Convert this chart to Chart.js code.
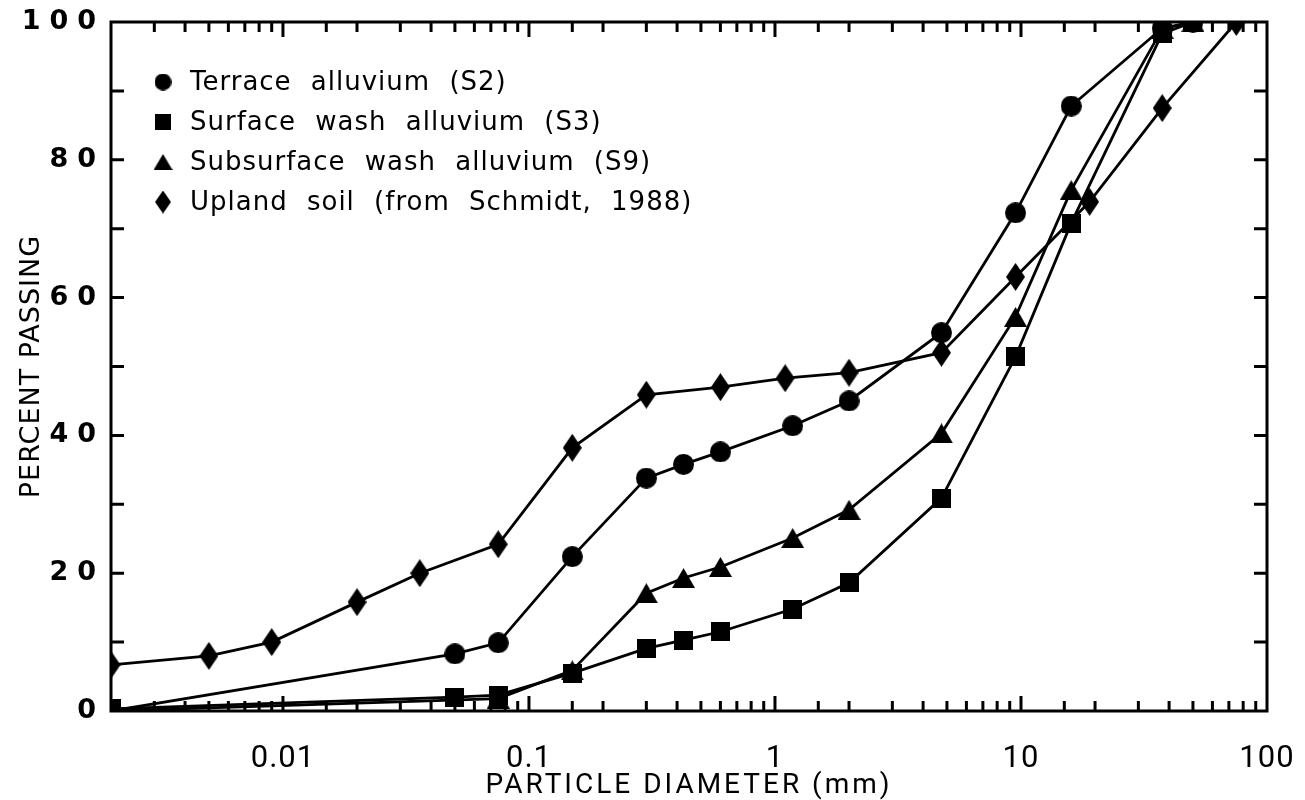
<!DOCTYPE html>
<html>
<head>
<meta charset="utf-8">
<script src="https://cdn.jsdelivr.net/npm/chart.js@4.4.1/dist/chart.umd.min.js"></script>
<style>
  html, body { margin: 0; padding: 0; background: #fff; }
  #wrap { width: 1305px; height: 800px; }
</style>
</head>
<body>
<div id="wrap"><canvas id="gradation" width="1305" height="800"></canvas></div>
<script>
// sieve sizes (mm) and percent passing
const terraceDiam = [0.002, 0.05, 0.075, 0.15, 0.3, 0.425, 0.6, 1.18, 2.0, 4.75, 9.5, 16, 37.5, 50];
const terracePass = [0, 8.3, 9.9, 22.4, 33.8, 35.8, 37.6, 41.4, 45.0, 54.9, 72.3, 87.8, 99.1, 100];

const surfaceDiam = [0.002, 0.05, 0.075, 0.15, 0.3, 0.425, 0.6, 1.18, 2.0, 4.75, 9.5, 16, 37.5, 50];
const surfacePass = [0.3, 2.0, 2.3, 5.5, 9.1, 10.3, 11.5, 14.8, 18.6, 30.9, 51.4, 70.8, 98.3, 100];

const subsurfaceDiam = [0.002, 0.075, 0.15, 0.3, 0.425, 0.6, 1.18, 2.0, 4.75, 9.5, 16, 37.5, 50];
const subsurfacePass = [0, 1.8, 5.9, 17.1, 19.3, 20.9, 25.1, 29.2, 40.3, 57.2, 75.6, 99.0, 100];

const uplandDiam = [0.002, 0.005, 0.009, 0.02, 0.036, 0.075, 0.15, 0.3, 0.6, 1.1, 2.0, 4.75, 9.5, 19, 37.5, 75];
const uplandPass = [6.7, 8.0, 10.0, 15.8, 20.0, 24.2, 38.2, 45.9, 47.0, 48.3, 49.1, 52.0, 63.0, 73.9, 87.5, 100];

const seriesLabels = [
    'Terrace alluvium (S2)',
    'Surface wash alluvium (S3)',
    'Subsurface wash alluvium (S9)',
    'Upland soil (from Schmidt, 1988)'
];

const xTickValues = [0.01, 0.1, 1, 10, 100];
const xTickText = ['0.01', '0.1', '1', '10', '100'];
const yTickValues = [0, 20, 40, 60, 80, 100];

const GradationChart = {
    // filled black marker drawn on a small canvas, used as a point style
    makeMarker: function(shape, w, h) {
        const c = document.createElement('canvas');
        c.width = w;
        c.height = h;
        const g = c.getContext('2d');
        g.fillStyle = '#000';
        g.beginPath();
        if (shape === 'circle') {
            g.arc(w / 2, h / 2, Math.min(w, h) / 2, 0, Math.PI * 2);
        } else if (shape === 'square') {
            g.rect(0, 0, w, h);
        } else if (shape === 'triangle') {
            g.moveTo(w / 2, 0);
            g.lineTo(w, h);
            g.lineTo(0, h);
            g.closePath();
        } else {
            g.moveTo(w / 2, 0);
            g.lineTo(w, h / 2);
            g.lineTo(w / 2, h);
            g.lineTo(0, h / 2);
            g.closePath();
        }
        g.fill();
        return c;
    },

    toPoints: function(diam, pass) {
        return diam.map((d, i) => ({ x: d, y: pass[i] }));
    },

    render: function() {
        const markers = [
            this.makeMarker('circle', 21, 21),
            this.makeMarker('square', 19, 19),
            this.makeMarker('triangle', 23, 20),
            this.makeMarker('diamond', 19, 28)
        ];
        const legendMarkers = [
            this.makeMarker('circle', 17, 17),
            this.makeMarker('square', 16, 16),
            this.makeMarker('triangle', 19, 16),
            this.makeMarker('diamond', 16, 23)
        ];

        // letter spacing per axis (Chart.js has no option for it)
        const spacing = {
            x: { labels: '1px', title: '3px' },
            y: { labels: '9px', title: '1px' }
        };
        const letterSpacing = {
            id: 'letterSpacing',
            beforeDraw(chart) {
                Object.keys(spacing).forEach(id => {
                    const scale = chart.scales[id];
                    if (!scale || scale._spaced) return;
                    scale._spaced = true;
                    [['drawLabels', spacing[id].labels], ['drawTitle', spacing[id].title]].forEach(([fn, ls]) => {
                        const orig = scale[fn];
                        scale[fn] = function(...args) {
                            this.ctx.save();
                            this.ctx.letterSpacing = ls;
                            orig.apply(this, args);
                            this.ctx.restore();
                        };
                    });
                });
            }
        };

        // box round the plot with inward tick marks on all four sides
        const frame = {
            id: 'frame',
            beforeDatasetsDraw(chart) {
                const { ctx, chartArea: a, scales } = chart;
                ctx.save();
                ctx.strokeStyle = '#000';
                ctx.lineWidth = 3;
                ctx.strokeRect(a.left, a.top, a.right - a.left, a.bottom - a.top);
                ctx.beginPath();
                scales.x.ticks.forEach(t => {
                    if (t.value <= scales.x.min || t.value >= scales.x.max) return;
                    const px = scales.x.getPixelForValue(t.value);
                    const l = Math.log10(t.value);
                    const len = Math.abs(l - Math.round(l)) < 1e-6 ? 15 : 10;
                    ctx.moveTo(px, a.bottom);
                    ctx.lineTo(px, a.bottom - len);
                    ctx.moveTo(px, a.top);
                    ctx.lineTo(px, a.top + len);
                });
                scales.y.ticks.forEach(t => {
                    if (t.value <= scales.y.min || t.value >= scales.y.max) return;
                    const py = scales.y.getPixelForValue(t.value);
                    ctx.moveTo(a.left, py);
                    ctx.lineTo(a.left + 13, py);
                    ctx.moveTo(a.right, py);
                    ctx.lineTo(a.right - 13, py);
                });
                ctx.stroke();
                ctx.restore();
            }
        };

        const legendBox = {
            id: 'legendBox',
            afterDraw(chart) {
                const { ctx, chartArea: a } = chart;
                ctx.save();
                ctx.fillStyle = '#000';
                ctx.font = '26px "DejaVu Sans", sans-serif';
                ctx.letterSpacing = '1px';
                ctx.wordSpacing = '10px';
                ctx.textBaseline = 'middle';
                ctx.textAlign = 'left';
                seriesLabels.forEach((label, i) => {
                    const y = a.top + 60 + i * 40;
                    const m = legendMarkers[i];
                    ctx.drawImage(m, a.left + 52 - m.width / 2, y - m.height / 2);
                    ctx.fillText(label, a.left + 79, y + 1);
                });
                ctx.restore();
            }
        };

        const raw = [
            [terraceDiam, terracePass],
            [surfaceDiam, surfacePass],
            [subsurfaceDiam, subsurfacePass],
            [uplandDiam, uplandPass]
        ];
        const datasets = raw.map(([d, p], i) => ({
            label: seriesLabels[i],
            data: this.toPoints(d, p),
            borderColor: '#000',
            backgroundColor: '#000',
            borderWidth: 2.8,
            pointStyle: markers[i],
            pointRadius: 10,
            pointHoverRadius: 10,
            tension: 0,
            order: i === 1 ? 0 : 1
        }));

        const regular = '"DejaVu Sans", sans-serif';
        const narrow = 'Roboto, "DejaVu Sans", sans-serif';

        new Chart(document.getElementById('gradation'), {
            type: 'line',
            data: { datasets: datasets },
            options: {
                responsive: false,
                animation: false,
                events: [],
                layout: { padding: { top: 22, right: 38, bottom: 0, left: 0 } },
                plugins: {
                    legend: { display: false },
                    tooltip: { enabled: false }
                },
                scales: {
                    x: {
                        type: 'logarithmic',
                        min: 0.002,
                        max: 100,
                        grid: { display: false, drawTicks: false },
                        border: { display: false },
                        ticks: {
                            autoSkip: false,
                            maxRotation: 0,
                            color: '#000',
                            padding: 30,
                            font: { family: narrow, size: 31 },
                            callback: v => {
                                const k = xTickValues.findIndex(t => Math.abs(Math.log10(t) - Math.log10(v)) < 1e-6);
                                return k >= 0 ? xTickText[k] : '';
                            }
                        },
                        title: {
                            display: true,
                            text: 'PARTICLE DIAMETER (mm)',
                            color: '#000',
                            font: { family: narrow, size: 28 },
                            padding: { top: 0, bottom: -3 }
                        },
                        afterFit: s => {
                            s.height = 89;
                            s.paddingLeft = 0;
                            s.paddingRight = 0;
                        }
                    },
                    y: {
                        min: 0,
                        max: 100,
                        grid: { display: false, drawTicks: false },
                        border: { display: false },
                        ticks: {
                            stepSize: 10,
                            color: '#000',
                            padding: 6,
                            font: { family: regular, size: 27, weight: 'bold' },
                            callback: v => yTickValues.includes(v) ? String(v) : ''
                        },
                        title: {
                            display: true,
                            text: 'PERCENT PASSING',
                            color: '#000',
                            font: { family: regular, size: 27 },
                            padding: { top: 16, bottom: 0 }
                        },
                        afterFit: s => {
                            s.width = 111;
                            s.paddingTop = 0;
                            s.paddingBottom = 0;
                        }
                    }
                }
            },
            plugins: [letterSpacing, frame, legendBox]
        });
    },

    init: function() {
        document.addEventListener('DOMContentLoaded', () => {
            this.render();
        });
    }
};

GradationChart.init();
</script>
</body>
</html>
